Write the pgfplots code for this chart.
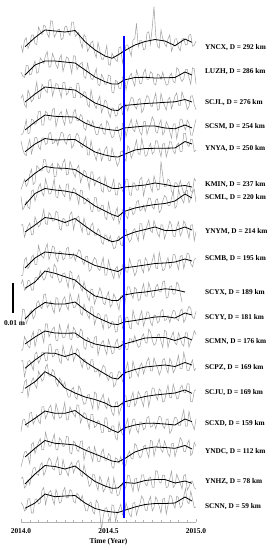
\documentclass[border=0pt]{standalone}
\usepackage{fontspec}
\setmainfont{Liberation Serif}
\usepackage{pgfplots}
\usepackage{pgfplotstable}
\pgfplotsset{compat=1.18}
\definecolor{rawgray}{RGB}{165,165,165}
\definecolor{eqblue}{RGB}{0,0,255}

% raw displacement (mm), sampled every 0.01 yr
\pgfplotstableread{
t g1 g2 g3 g4 g5 g6 g7 g8 g9 g10 g11 g12 g13 g14 g15 g16 g17 g18
2014.00 0.9 0.0 1.6 -2.5 2.6 -1.5 0.5 2.3 -5.6 3.1 -2.7 -2.8 2.3 0.2 -2.5 -4.9 1.2 1.5
2014.01 -1.4 -1.4 2.7 -2.3 -0.1 0.2 -3.9 2.5 -5.4 4.4 3.0 -2.5 2.5 0.1 1.3 -2.7 1.6 0.7
2014.02 2.6 -1.8 -0.6 -0.3 -1.7 1.9 -2.9 -1.7 -0.3 0.9 2.7 1.8 -2.9 3.7 1.6 0.0 -2.0 -1.3
2014.03 3.4 2.2 -1.5 2.4 -2.2 -0.5 -1.1 0.2 0.5 1.4 -1.9 0.6 -0.2 4.5 -0.3 0.2 -1.2 -0.8
2014.04 -0.2 2.2 4.3 -2.2 1.0 0.7 -3.0 1.8 -3.2 4.2 -0.3 -1.3 2.2 -1.3 -1.1 -1.4 0.7 2.7
2014.05 1.3 -1.0 2.6 -2.0 3.2 3.6 -3.6 3.0 -2.2 4.1 1.7 -2.0 2.5 1.8 3.6 -3.9 -0.9 2.8
2014.06 4.2 -0.7 0.4 2.6 -1.6 5.3 2.3 -0.9 0.6 1.0 2.6 1.8 1.0 3.8 3.9 2.5 2.0 -2.0
2014.07 4.4 2.1 1.2 2.3 0.8 0.1 2.7 -0.7 1.3 1.0 -0.3 3.5 -0.8 5.1 -0.1 3.2 4.6 -2.0
2014.08 1.5 3.7 3.6 0.8 3.9 0.9 -1.0 5.1 -1.8 5.0 0.8 -1.5 4.7 2.7 1.3 -0.5 4.9 2.5
2014.09 1.1 -0.4 7.0 1.5 3.9 6.4 0.9 3.3 -1.9 5.3 5.0 1.0 5.3 1.6 3.0 1.5 2.6 2.7
2014.10 7.0 0.0 1.5 5.1 0.8 5.7 3.4 1.7 4.5 4.6 5.7 4.1 1.6 7.3 1.0 3.2 2.2 1.0
2014.11 5.7 4.7 1.7 5.3 -0.2 4.7 4.8 2.4 2.2 7.4 3.8 4.1 2.8 5.9 0.1 4.5 5.6 1.4
2014.12 4.5 3.9 6.3 0.6 3.7 4.7 1.8 4.8 0.9 5.7 3.1 2.5 5.2 3.9 5.7 0.7 6.5 5.5
2014.13 7.6 2.8 5.2 0.7 3.7 8.5 0.7 7.5 0.3 4.3 7.8 -0.2 5.3 4.7 5.8 0.8 2.2 6.5
2014.14 7.2 5.5 4.2 5.2 1.5 8.4 6.4 2.8 3.4 5.1 8.0 6.0 2.4 8.6 1.8 6.6 3.5 0.8
2014.15 4.8 6.8 3.4 4.7 1.9 4.5 4.1 2.5 5.1 7.8 3.5 6.0 2.6 9.6 3.3 4.2 6.3 3.4
2014.16 3.5 1.6 7.6 2.4 5.2 4.1 1.3 6.5 -0.2 8.5 4.4 1.7 7.7 5.7 5.3 2.0 8.0 4.8
2014.17 9.1 1.9 7.8 2.3 5.5 6.2 1.5 5.6 1.7 5.5 5.6 3.1 8.0 5.6 6.3 2.0 7.3 5.5
2014.18 8.8 6.2 2.3 5.8 1.8 7.2 3.4 3.6 4.3 5.0 3.0 4.3 3.7 7.8 2.9 3.8 4.5 2.6
2014.19 3.6 4.6 4.6 6.2 2.1 2.8 6.3 3.8 3.9 9.6 1.6 5.0 4.1 7.1 1.5 6.0 4.0 0.8
2014.20 4.7 2.4 6.5 0.1 3.4 2.9 0.4 6.9 0.5 8.6 6.8 0.6 6.3 3.4 6.8 0.9 6.4 5.8
2014.21 6.0 1.2 6.2 2.7 1.2 7.2 0.1 6.5 -0.9 5.4 6.5 0.4 6.2 2.2 4.6 0.7 8.3 3.9
2014.22 6.3 4.4 4.2 4.3 3.6 6.2 4.2 1.1 2.6 3.5 2.2 5.8 2.3 5.0 1.9 4.7 2.4 1.3
2014.23 2.8 5.7 1.8 5.2 5.6 4.9 2.7 0.6 2.3 3.9 3.8 3.4 1.6 4.0 2.2 3.9 2.6 1.7
2014.24 3.2 0.2 6.8 2.4 5.3 7.4 1.3 4.6 -0.3 6.5 6.0 1.4 7.5 2.0 4.2 1.8 7.5 5.1
2014.25 7.0 2.4 6.9 0.6 2.5 8.6 0.4 4.2 0.2 6.7 7.1 1.6 4.8 3.7 7.2 2.1 4.9 6.5
2014.26 7.3 5.0 2.7 5.8 1.6 3.4 4.6 2.0 3.5 4.1 3.9 3.6 3.2 0.9 1.4 5.2 3.5 3.0
2014.27 5.2 4.6 3.5 3.8 4.5 3.6 4.7 2.1 3.9 1.8 2.7 5.9 2.5 -1.4 1.4 5.0 2.0 3.2
2014.28 4.2 2.6 5.4 1.2 4.9 7.9 -0.8 5.9 0.2 7.3 8.2 1.0 5.5 -1.4 5.7 -0.2 5.6 5.8
2014.29 8.6 -0.5 5.1 1.5 0.3 6.2 1.4 6.7 0.4 6.8 6.1 0.8 7.4 1.2 4.4 -0.6 6.6 5.3
2014.30 8.6 5.4 1.8 4.9 1.2 3.9 3.3 0.8 1.8 1.5 3.5 4.9 2.3 1.8 3.3 3.6 3.0 1.9
2014.31 3.8 5.3 1.8 5.9 3.8 2.6 2.8 3.4 -0.6 3.7 3.6 3.9 4.1 -1.4 2.3 3.0 4.7 1.3
2014.32 4.5 0.8 6.6 2.2 5.3 5.6 0.6 4.8 1.5 4.7 5.4 1.6 6.5 -2.1 6.4 0.6 6.7 4.6
2014.33 5.2 1.9 6.5 2.1 4.4 6.6 -2.1 5.3 3.1 5.9 7.9 1.5 5.8 2.4 6.2 0.2 7.2 3.9
2014.34 2.0 2.8 1.9 4.2 1.2 0.8 2.6 2.0 2.5 1.9 1.6 4.3 1.9 1.3 0.3 3.5 2.5 2.1
2014.35 0.0 3.2 2.0 3.4 0.4 2.6 2.4 -0.1 -0.6 0.6 0.9 3.7 0.1 -1.9 2.2 3.7 1.8 3.8
2014.36 4.5 -1.5 3.8 -0.4 2.4 4.9 -2.0 4.7 -1.9 3.8 4.6 -1.8 3.1 -3.8 3.8 -2.7 5.7 1.1
2014.37 3.7 -2.1 3.5 -1.1 4.2 4.3 -1.6 2.2 0.8 1.5 2.7 -2.4 2.5 -3.4 3.3 -0.2 3.2 -1.3
2014.38 -1.1 2.9 -0.5 2.3 -1.9 2.0 0.0 -0.8 0.9 -1.2 1.0 1.5 -0.4 -0.7 1.0 1.1 1.5 -1.3
2014.39 0.0 0.2 -1.4 1.8 -2.0 -1.3 -0.7 -0.9 -4.1 -2.6 -0.2 0.9 -0.3 -0.5 -1.6 1.8 -1.5 1.2
2014.40 1.8 -2.2 4.4 0.1 2.8 4.4 -4.3 2.1 -3.5 1.3 3.8 -1.5 2.7 -3.0 3.2 -1.2 -0.6 1.7
2014.41 2.3 -2.5 1.3 2.1 -0.2 4.3 -4.6 3.0 -0.9 1.1 3.6 -1.9 2.8 -5.3 3.2 -3.2 2.5 -1.5
2014.42 -1.5 -0.9 -0.7 -0.5 -1.9 -0.2 0.1 -1.0 0.5 -3.7 -2.2 1.5 -1.2 0.3 -1.2 1.8 2.4 -2.3
2014.43 -3.2 1.2 -1.8 -2.6 -3.8 1.1 0.1 -1.1 -0.3 -1.8 -0.2 1.9 -1.3 -0.2 -0.6 -0.4 -0.9 2.3
2014.44 1.9 -4.1 0.8 -2.4 -0.5 2.2 -4.4 1.1 -3.2 -0.6 1.6 -4.4 -0.2 -5.5 1.2 -3.3 -2.8 1.3
2014.45 -0.7 -4.6 2.3 0.3 0.1 2.7 -4.3 0.3 -3.8 1.7 1.1 -1.8 -2.8 -3.1 0.6 -3.2 1.9 -1.8
2014.46 -3.7 -0.8 -3.2 1.1 -3.9 -1.9 -2.4 -3.4 -1.5 0.3 -1.2 -0.3 -0.8 -1.9 -2.8 0.0 0.5 -7.6
2014.47 -3.8 -1.9 -1.4 -2.0 -2.1 -2.4 -2.5 -4.1 0.5 -3.4 -3.7 0.5 0.9 -0.4 -2.8 1.0 -3.3 -3.2
2014.48 -2.1 -4.1 1.0 -2.5 -0.1 2.8 -6.4 -0.9 -5.4 -3.9 1.0 -2.4 0.2 -4.1 2.0 -2.7 -2.2 -0.5
2014.49 0.8 -4.0 0.4 2.1 0.8 0.2 -7.2 -1.4 -5.3 -1.1 1.0 -4.2 -2.9 -5.2 2.0 -2.8 -0.5 -0.2
2014.50 -5.4 -1.0 -3.3 1.2 -3.7 -2.1 -1.4 -3.1 -0.3 0.4 -3.4 0.9 -4.2 -1.8 -2.5 -0.5 1.5 -2.7
2014.51 -5.8 -1.4 -4.8 -1.8 -4.0 -2.1 -4.4 -1.2 -3.1 -4.7 -2.9 -1.2 -1.6 -4.0 -2.5 -1.3 -3.3 -4.9
2014.52 -1.7 -6.7 -1.6 -3.6 0.3 -0.4 -6.3 -3.7 -4.7 -3.8 -1.1 -3.9 -1.5 -6.5 -0.6 -4.9 -3.8 0.7
2014.53 -2.9 -7.0 -1.9 -3.1 -1.9 1.9 -7.4 -5.6 -6.5 -0.3 -1.5 -3.6 -6.3 -7.5 -0.7 -5.4 1.5 0.4
2014.54 -3.9 -2.8 -4.4 -0.3 -3.2 -3.2 -4.8 -5.2 -3.2 -1.6 -4.7 -0.3 -5.5 -3.1 -4.6 -1.9 -1.5 -4.8
2014.55 -4.5 -3.2 -4.0 0.1 -5.7 -3.4 -3.2 -2.3 -2.5 -3.5 -4.5 1.0 -2.7 -2.9 -5.3 -2.3 -4.5 -2.2
2014.56 0.1 -5.4 -0.6 -2.4 -4.5 0.7 -8.6 -1.3 -6.4 -5.7 0.5 -2.5 -1.1 -7.3 0.7 -3.7 -4.3 -0.8
2014.57 0.4 -5.5 -0.2 -4.5 -0.9 -0.1 -6.6 -4.2 -4.5 -1.1 0.8 -2.3 -1.7 -5.2 -2.0 -1.5 -1.8 0.9
2014.58 -5.0 -1.9 -3.8 1.2 -0.6 -2.1 -4.0 -4.6 -2.3 -0.8 -3.4 0.2 -4.5 -3.9 -3.6 -3.8 -0.3 -2.6
2014.59 -1.9 -0.7 -2.7 1.4 -3.0 -1.5 -3.3 0.9 -0.6 -5.1 -2.5 0.4 -3.8 -0.6 -3.7 -5.1 -3.0 -3.0
2014.60 0.9 -6.0 -0.4 -3.3 -4.0 2.0 -5.8 0.9 -4.3 -1.1 0.2 -2.4 -0.2 -1.1 0.0 -4.1 -1.3 1.3
2014.61 1.0 -3.2 -2.6 -0.7 1.1 1.9 -6.9 -1.8 -4.4 2.1 0.3 -2.6 2.0 -4.5 1.8 -0.9 2.3 -0.5
2014.62 -0.7 -1.5 -0.2 0.8 0.2 -3.2 -3.2 -3.3 0.1 2.0 -3.2 1.1 -3.5 -4.6 -3.2 0.3 2.1 -2.5
2014.63 -2.7 -0.4 1.9 2.6 -3.1 -3.5 -3.3 -2.5 -2.0 -0.4 -3.6 1.0 -3.0 -1.5 -1.1 -2.2 -0.8 -3.3
2014.64 2.6 -3.1 1.6 -0.9 -1.5 0.8 -5.6 0.5 -3.2 -1.8 2.6 -0.3 2.3 0.3 1.7 -2.3 -3.2 1.2
2014.65 3.1 -4.7 -1.1 -1.6 0.6 0.5 -4.9 1.1 -5.6 1.9 0.0 2.1 -0.2 -4.4 1.5 2.8 1.0 1.5
2014.66 8.2 0.6 -2.0 2.3 3.0 -1.7 -1.3 -1.1 -4.2 1.2 -1.5 0.0 -1.4 -3.2 -1.8 2.2 1.2 -2.7
2014.67 0.3 -1.4 1.0 0.4 -1.6 -1.7 -0.8 -3.0 -0.5 -2.5 -2.3 -1.8 -2.9 0.5 -3.0 -0.5 -3.1 -0.4
2014.68 2.5 -4.0 1.5 -1.7 -1.8 1.9 -4.3 2.8 -0.2 -2.2 0.6 -1.4 0.7 -0.7 0.7 -2.0 -0.7 1.0
2014.69 2.4 -3.7 -3.2 -2.7 3.6 2.5 -3.9 2.7 -3.1 0.7 2.4 1.6 1.7 -2.5 0.6 -1.2 2.4 3.7
2014.70 -0.6 -0.3 -2.2 1.7 0.7 -3.6 -2.4 -2.3 -4.6 3.1 -2.7 2.7 -2.0 -4.5 -1.9 1.8 2.4 2.5
2014.71 -0.3 1.0 0.7 1.9 -2.4 -0.8 -4.5 0.5 0.4 -0.9 -0.6 -0.1 0.0 0.2 -1.3 2.3 -0.6 -1.0
2014.72 5.0 -2.5 2.5 -2.5 -2.1 0.9 -2.1 2.0 -0.6 -1.1 2.1 -0.4 2.3 0.6 2.1 0.1 -1.3 -1.2
2014.73 5.4 -2.4 1.9 -0.4 0.4 2.0 0.0 3.9 -4.0 3.5 1.9 4.3 3.4 -4.6 2.5 -1.9 1.2 1.9
2014.74 1.3 0.1 -0.9 0.9 1.9 -0.7 -0.2 0.5 -2.6 1.3 -1.4 3.4 -0.9 -1.5 -1.1 3.9 1.6 3.5
2014.75 6.9 -0.5 -1.2 3.4 -1.7 -2.3 -2.9 -0.2 -0.6 -1.5 -2.6 0.6 -1.0 1.7 -0.8 3.6 -1.7 -1.3
2014.76 13.8 -3.9 1.2 2.1 -0.9 3.0 -3.7 3.8 1.7 -1.2 1.0 -1.1 3.4 1.6 0.6 -1.4 -1.8 -0.2
2014.77 4.3 -4.3 3.3 -1.6 2.8 1.0 -0.7 1.8 -2.9 2.0 0.8 -0.5 1.4 -0.9 -1.6 1.2 3.8 3.4
2014.78 0.6 -0.7 -2.4 -1.9 2.6 -1.7 -0.3 -0.5 -3.2 2.9 -1.6 2.3 0.2 -2.3 0.7 2.6 3.5 2.1
2014.79 0.0 -1.0 -2.0 1.0 -0.3 -1.4 -4.9 -1.7 2.2 0.5 -1.1 2.7 -2.3 1.4 2.6 4.3 0.0 0.2
2014.80 6.0 -2.4 3.2 2.4 -2.6 7.9 -4.0 2.4 -0.8 0.3 2.3 0.3 -0.9 0.6 2.3 0.8 -0.4 -2.0
2014.81 3.2 -0.1 0.6 -2.6 1.6 3.1 -1.0 2.3 -3.9 3.7 2.8 -1.8 2.7 -3.0 -0.6 -0.1 2.3 2.6
2014.82 1.5 -2.4 -0.8 -1.6 1.8 -0.5 0.8 -2.3 -3.6 4.0 -0.8 3.9 3.1 -2.7 -1.5 3.7 2.2 2.9
2014.83 0.4 -4.4 -2.4 1.8 -2.7 -0.4 0.3 -0.2 -1.1 -1.7 -0.6 3.5 0.0 0.2 1.4 1.8 -1.9 -2.4
2014.84 3.0 -4.1 1.1 0.5 -0.4 2.0 -2.4 1.1 0.5 -1.4 0.8 -1.8 -1.7 2.6 1.7 -0.5 -1.6 0.6
2014.85 4.4 -1.3 1.9 -1.5 2.5 1.4 -2.6 3.6 -3.1 2.1 -1.5 0.6 3.2 -1.5 -3.1 -1.5 1.1 3.8
2014.86 -1.1 -0.4 -1.9 -3.7 2.3 -2.2 -0.1 2.3 -2.2 2.4 0.7 1.9 2.0 -1.6 -2.2 2.7 3.6 3.6
2014.87 0.7 -3.2 0.1 0.9 -0.8 -2.7 2.2 -1.3 1.5 -0.4 2.6 3.4 -1.6 2.9 0.6 2.9 -1.8 1.1
2014.88 3.0 -3.6 2.3 1.1 -1.6 0.8 -3.4 -1.6 1.4 -0.3 2.2 -0.3 -0.4 0.7 2.3 -1.6 -1.1 -0.4
2014.89 3.1 1.4 3.4 -4.0 1.3 0.6 -2.7 1.6 -1.3 3.6 -0.3 -0.9 1.7 -2.0 2.0 0.7 2.6 3.6
2014.90 0.1 0.8 -0.7 -0.8 2.0 -0.8 2.8 3.4 -3.5 2.9 -0.9 3.1 4.2 -1.7 -0.4 2.2 1.0 3.1
2014.91 -0.9 -1.8 -0.8 2.6 -0.9 1.5 0.6 -1.3 0.8 -0.1 2.3 1.4 -0.2 1.6 -0.5 4.8 -0.4 -0.2
2014.92 3.0 -3.2 3.7 2.6 -0.8 -0.8 -0.4 0.0 1.2 -3.0 3.0 -0.6 -0.3 2.6 2.3 3.7 -2.3 0.3
2014.93 3.2 -2.3 1.8 0.3 5.2 -2.7 -1.7 3.7 -3.2 nan -1.5 -1.4 5.2 0.3 4.7 0.2 2.1 3.5
2014.94 1.0 0.8 0.6 -1.0 5.2 -2.4 2.1 2.6 -0.7 nan -0.3 3.1 2.4 0.1 -0.7 0.1 2.5 6.1
2014.95 1.2 0.9 -2.2 2.3 1.5 0.3 2.6 0.4 2.0 nan 2.4 3.0 -0.9 3.1 -0.7 2.7 -2.7 1.7
2014.96 4.3 -1.8 -1.1 1.2 0.8 1.1 -1.6 -2.1 1.6 nan 3.9 -1.7 -0.9 3.0 4.2 4.0 -1.6 1.1
2014.97 4.5 -4.1 2.3 -2.7 3.3 -2.0 0.0 2.3 -1.6 nan 3.2 0.2 1.4 -2.9 1.4 -1.2 0.2 5.3
2014.98 0.6 1.4 2.4 -2.7 3.1 -2.5 1.9 2.4 -2.6 nan 0.2 1.3 2.7 -2.8 -0.2 -0.3 0.3 2.7
2014.99 0.9 1.1 -0.6 0.2 -0.9 2.2 2.9 -2.9 -0.1 nan -0.2 3.8 -0.9 0.7 -1.9 3.2 -1.9 -0.2
2015.00 2.3 -4.0 -2.2 2.5 -0.4 1.3 -1.4 0.1 0.2 nan 2.2 2.5 -0.1 1.1 1.6 1.9 -2.4 0.0
}\graytab

% smoothed displacement (mm)
\pgfplotstableread{
t s1 s2 s3 s4 s5 s6 s7 s8 s9 s10 s11 s12 s13 s14 s15 s16 s17 s18
2014.023 0.43 -1.0 0.33 -1.0 -0.9 1.1 -2.33 0.0 -3.0 1.57 -0.33 -0.67 -0.1 1.57 -0.33 -1.67 -0.67 -0.43
2014.080 3.5 2.33 3.0 1.67 1.67 3.9 1.5 2.33 0.33 3.67 3.0 1.67 2.67 3.77 1.9 1.23 2.67 1.33
2014.137 6.0 3.67 5.33 4.0 3.5 6.17 3.17 4.83 2.33 7.33 5.17 3.67 5.0 7.1 4.33 3.83 5.5 4.33
2014.194 5.67 3.67 5.0 3.57 3.0 5.67 2.67 4.33 2.0 6.57 4.67 3.0 4.9 5.33 3.57 2.9 5.17 3.43
2014.251 5.33 3.33 4.67 3.43 3.1 5.57 2.33 3.17 1.67 5.43 4.67 2.9 3.83 1.67 3.57 2.67 4.33 3.67
2014.309 5.83 3.0 4.33 3.33 3.17 5.17 1.67 4.5 1.33 4.33 5.33 3.0 4.9 0.0 4.5 2.33 5.33 3.83
2014.366 2.1 0.67 2.17 1.33 1.0 3.0 -0.33 2.0 -0.5 1.33 2.67 0.67 2.1 -1.33 2.0 0.67 2.67 1.33
2014.423 -0.67 -1.67 0.0 0.0 -1.0 1.5 -2.67 -0.33 -2.17 -1.0 0.5 -0.67 0.0 -2.17 0.67 -0.67 0.17 -0.5
2014.480 -2.67 -3.23 -1.17 -0.67 -2.0 0.0 -4.33 -2.17 -3.0 -1.77 -1.0 -1.33 -2.0 -3.33 -0.67 -2.0 -1.33 -1.33
2014.520 -3.43 -4.0 -2.33 -1.0 -2.5 -1.1 -5.5 -3.23 -3.67 -2.5 -2.0 -1.67 -3.33 -4.57 -2.0 -3.0 -2.1 -1.67
2014.554 -2.33 -4.0 -2.5 -1.17 -2.67 -1.17 -6.17 -2.83 -4.17 -2.5 -2.17 -1.83 -3.67 -4.5 -2.83 -3.33 -2.0 -1.83
2014.589 -1.0 -2.67 -0.83 -0.33 -1.83 -0.67 -4.5 -1.33 -3.0 -0.67 -1.33 -0.67 -1.67 -3.0 -1.33 -2.33 -0.17 -1.17
2014.651 1.0 -1.83 -0.5 0.0 -0.33 -0.33 -3.33 0.0 -2.5 0.0 -0.83 0.33 -0.5 -2.0 -0.33 0.0 -0.43 0.0
2014.709 2.17 -1.77 -0.17 0.33 0.17 0.0 -2.67 0.83 -2.0 0.33 -0.23 1.33 0.33 -1.17 0.23 1.17 0.5 0.83
2014.766 2.83 -2.0 0.0 0.33 0.23 0.67 -2.17 1.67 -1.5 0.83 0.33 1.5 0.67 -0.67 0.23 1.67 0.83 1.17
2014.823 2.33 -1.93 0.23 -0.33 0.27 0.17 -1.83 0.5 -1.33 1.4 0.5 1.5 1.0 -0.33 0.0 1.5 0.83 1.17
2014.880 0.77 -1.83 0.4 -0.6 0.33 -0.5 -1.0 0.5 -1.0 1.1 0.0 0.5 0.5 0.0 -0.33 1.23 -0.33 1.33
2014.937 3.0 0.0 1.17 0.67 2.5 -0.17 1.33 1.67 0.0 0.33 1.67 1.67 1.83 1.0 1.67 2.17 0.33 3.33
2014.977 1.9 -1.0 0.33 -0.33 1.67 -0.67 0.0 0.67 -0.67 nan 1.0 0.67 1.0 -0.1 0.77 1.0 -0.43 2.0
}\smtab

\begin{document}
\begin{tikzpicture}
\useasboundingbox (0,0) rectangle (273pt,-550pt);
\begin{axis}[
  at={(21pt,-522pt)}, anchor=south west,
  scale only axis, width=175pt, height=517pt,
  xmin=2014, xmax=2015, ymin=-522, ymax=-5,
  axis y line=none, axis x line*=bottom,
  x axis line style={draw=gray!60,-},
  xtick={2014,2014.5,2015}, xticklabels={2014.0,2014.5,2015.0},
  minor x tick num=9,
  tick style={draw=gray!60}, tick align=inside,
  major tick length=3pt, minor tick length=2pt,
  xticklabel style={font=\bfseries\fontsize{7.4}{8}\selectfont, yshift=-3.5pt},
  xlabel={Time (Year)},
  xlabel style={font=\bfseries\fontsize{7.4}{8}\selectfont, yshift=3pt},
  clip=false,
  every axis plot/.append style={no markers},
  raw/.style={rawgray, line width=0.55pt},
  sm/.style={black, line width=0.8pt},
]
\addplot[raw] table[x=t, y expr=3*\thisrow{g1}-48] {\graytab};
\addplot[raw] table[x=t, y expr=3*\thisrow{g2}-72] {\graytab};
\addplot[raw] table[x=t, y expr=3*\thisrow{g3}-103] {\graytab};
\addplot[raw] table[x=t, y expr=3*\thisrow{g4}-127] {\graytab};
\addplot[raw] table[x=t, y expr=3*\thisrow{g5}-149] {\graytab};
\addplot[raw] table[x=t, y expr=3*\thisrow{g6}-185] {\graytab};
\addplot[raw] table[x=t, y expr=3*\thisrow{g7}-198] {\graytab};
\addplot[raw] table[x=t, y expr=3*\thisrow{g8}-232] {\graytab};
\addplot[raw] table[x=t, y expr=3*\thisrow{g9}-259] {\graytab};
\addplot[raw] table[x=t, y expr=3*\thisrow{g10}-293] {\graytab};
\addplot[raw] table[x=t, y expr=3*\thisrow{g11}-318] {\graytab};
\addplot[raw] table[x=t, y expr=3*\thisrow{g12}-342] {\graytab};
\addplot[raw] table[x=t, y expr=3*\thisrow{g13}-368] {\graytab};
\addplot[raw] table[x=t, y expr=3*\thisrow{g14}-393] {\graytab};
\addplot[raw] table[x=t, y expr=3*\thisrow{g15}-424] {\graytab};
\addplot[raw] table[x=t, y expr=3*\thisrow{g16}-452] {\graytab};
\addplot[raw] table[x=t, y expr=3*\thisrow{g17}-482] {\graytab};
\addplot[raw] table[x=t, y expr=3*\thisrow{g18}-507] {\graytab};

\addplot[sm] table[x=t, y expr=3*\thisrow{s1}-48] {\smtab};
\addplot[sm] table[x=t, y expr=3*\thisrow{s2}-72] {\smtab};
\addplot[sm] table[x=t, y expr=3*\thisrow{s3}-103] {\smtab};
\addplot[sm] table[x=t, y expr=3*\thisrow{s4}-127] {\smtab};
\addplot[sm] table[x=t, y expr=3*\thisrow{s5}-149] {\smtab};
\addplot[sm] table[x=t, y expr=3*\thisrow{s6}-185] {\smtab};
\addplot[sm] table[x=t, y expr=3*\thisrow{s7}-198] {\smtab};
\addplot[sm] table[x=t, y expr=3*\thisrow{s8}-232] {\smtab};
\addplot[sm] table[x=t, y expr=3*\thisrow{s9}-259] {\smtab};
\addplot[sm] table[x=t, y expr=3*\thisrow{s10}-293] {\smtab};
\addplot[sm] table[x=t, y expr=3*\thisrow{s11}-318] {\smtab};
\addplot[sm] table[x=t, y expr=3*\thisrow{s12}-342] {\smtab};
\addplot[sm] table[x=t, y expr=3*\thisrow{s13}-368] {\smtab};
\addplot[sm] table[x=t, y expr=3*\thisrow{s14}-393] {\smtab};
\addplot[sm] table[x=t, y expr=3*\thisrow{s15}-424] {\smtab};
\addplot[sm] table[x=t, y expr=3*\thisrow{s16}-452] {\smtab};
\addplot[sm] table[x=t, y expr=3*\thisrow{s17}-482] {\smtab};
\addplot[sm] table[x=t, y expr=3*\thisrow{s18}-507] {\smtab};

% earthquake time
\draw[eqblue, line width=1.6pt] (axis cs:2014.589,-36) -- (axis cs:2014.589,-518);
% scale bar
\draw[black, line width=1.6pt] (axis cs:2013.954,-283) -- (axis cs:2013.954,-313);
\node[font=\bfseries\fontsize{7.4}{8}\selectfont] at (axis cs:2013.963,-323) {0.01 m};

\begin{scope}[every node/.style={anchor=west, font=\bfseries\fontsize{7.3}{8}\selectfont, inner sep=0pt}]
\node at (axis cs:2015.051,-48) {YNCX, D = 292 km};
\node at (axis cs:2015.051,-72) {LUZH, D = 286 km};
\node at (axis cs:2015.051,-103) {SCJL, D = 276 km};
\node at (axis cs:2015.051,-127) {SCSM, D = 254 km};
\node at (axis cs:2015.051,-149) {YNYA, D = 250 km};
\node at (axis cs:2015.051,-185) {KMIN, D = 237 km};
\node at (axis cs:2015.051,-198) {SCML, D = 220 km};
\node at (axis cs:2015.051,-232) {YNYM, D = 214 km};
\node at (axis cs:2015.051,-259) {SCMB, D = 195 km};
\node at (axis cs:2015.051,-293) {SCYX, D = 189 km};
\node at (axis cs:2015.051,-318) {SCYY, D = 181 km};
\node at (axis cs:2015.051,-342) {SCMN, D = 176 km};
\node at (axis cs:2015.051,-368) {SCPZ, D = 169 km};
\node at (axis cs:2015.051,-393) {SCJU, D = 169 km};
\node at (axis cs:2015.051,-424) {SCXD, D = 159 km};
\node at (axis cs:2015.051,-452) {YNDC, D = 112 km};
\node at (axis cs:2015.051,-482) {YNHZ, D = 78 km};
\node at (axis cs:2015.051,-507) {SCNN, D = 59 km};
\end{scope}
\end{axis}
\end{tikzpicture}
\end{document}
